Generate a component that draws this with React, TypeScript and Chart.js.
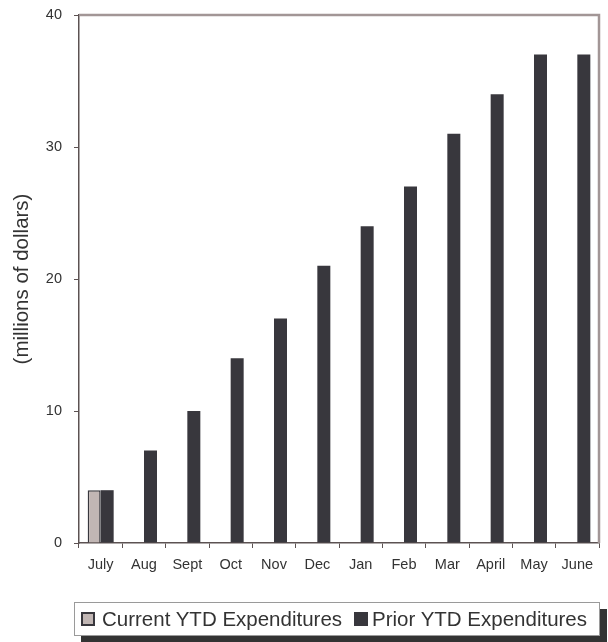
import React, { useEffect, useRef } from "react";
import { Chart, registerables } from "chart.js";

Chart.register(...registerables);

const months = ["July", "Aug", "Sept", "Oct", "Nov", "Dec", "Jan", "Feb", "Mar", "April", "May", "June"];
const currentYTD = [4, null, null, null, null, null, null, null, null, null, null, null];
const priorYTD = [4, 7, 10, 14, 17, 21, 24, 27, 31, 34, 37, 37];
const seriesNames = ["Current YTD Expenditures", "Prior YTD Expenditures"];
const seriesColors = ["#c1b6b4", "#38373d"];
const yTitle = "(millions of dollars)";

const FONT = "'Liberation Sans', Arial, sans-serif";

const frameBorder = {
  id: "frameBorder",
  afterDatasetsDraw(chart: any) {
    const { ctx, chartArea } = chart;
    ctx.save();
    ctx.strokeStyle = "#a29696";
    ctx.lineWidth = 2.5;
    ctx.beginPath();
    ctx.moveTo(chartArea.left, chartArea.top);
    ctx.lineTo(chartArea.right, chartArea.top);
    ctx.lineTo(chartArea.right, chartArea.bottom);
    ctx.stroke();
    ctx.restore();
  },
};

export default function App() {
  const ref = useRef<HTMLCanvasElement>(null);
  useEffect(() => {
    const chart = new Chart(ref.current!, {
      type: "bar",
      data: {
        labels: months,
        datasets: [
          {
            label: seriesNames[0],
            data: currentYTD,
            backgroundColor: seriesColors[0],
            borderColor: "#38373d",
            borderWidth: 1.5,
          },
          {
            label: seriesNames[1],
            data: priorYTD,
            backgroundColor: seriesColors[1],
            borderWidth: 0,
          },
        ],
      },
      options: {
        animation: false,
        responsive: false,
        maintainAspectRatio: false,
        datasets: { bar: { categoryPercentage: 0.6, barPercentage: 1 } },
        layout: { padding: { left: 0, top: 15, right: 9, bottom: 59 } },
        plugins: { legend: { display: false }, tooltip: { enabled: false } },
        scales: {
          x: {
            afterFit: (s: any) => { s.height = 40; s.paddingLeft = 0; s.paddingRight = 0; },
            grid: { display: true, drawOnChartArea: false, drawTicks: true, tickLength: 5, color: "#5c5252", offset: true },
            border: { display: true, color: "#5c5252", width: 1.5 },
            ticks: { color: "#333333", font: { family: FONT, size: 14.5 }, padding: 8, maxRotation: 0, autoSkip: false },
          },
          y: {
            min: 0,
            max: 40,
            afterFit: (s: any) => { s.width = 79; s.paddingTop = 0; s.paddingBottom = 0; },
            grid: { display: true, drawOnChartArea: false, drawTicks: true, tickLength: 5, color: "#5c5252" },
            border: { display: true, color: "#5c5252", width: 1.5 },
            ticks: { stepSize: 10, color: "#333333", font: { family: FONT, size: 14.5 }, padding: 12 },
            title: {
              display: true,
              text: yTitle,
              color: "#333333",
              font: { family: FONT, size: 20.5 },
              padding: { top: 10, bottom: 0 },
            },
          },
        },
      },
      plugins: [frameBorder],
    });
    return () => chart.destroy();
  }, []);

  return (
    <div style={{ position: "fixed", left: 0, top: 0, width: 608, height: 642, background: "#fff", overflow: "hidden" }}>
      <canvas ref={ref} width={608} height={642} style={{ position: "absolute", left: 0, top: 0 }} />
      <div
        style={{
          position: "absolute",
          left: 74,
          top: 602,
          width: 526,
          height: 34,
          boxSizing: "border-box",
          border: "1px solid #9a9a9a",
          background: "#fff",
          boxShadow: "7px 7px 0 #333333",
          display: "flex",
          alignItems: "center",
          paddingLeft: 6,
          fontFamily: FONT,
          fontSize: 20.5,
          color: "#333333",
          whiteSpace: "nowrap",
        }}
      >
        {seriesNames.map((n, i) => (
          <div key={n} style={{ display: "flex", alignItems: "center", marginRight: 12 }}>
            <span
              style={{
                display: "inline-block",
                width: 14,
                height: 14,
                boxSizing: "border-box",
                background: seriesColors[i],
                border: "2px solid #38373d",
                marginRight: i === 0 ? 7 : 4,
              }}
            />
            <span>{n}</span>
          </div>
        ))}
      </div>
    </div>
  );
}
